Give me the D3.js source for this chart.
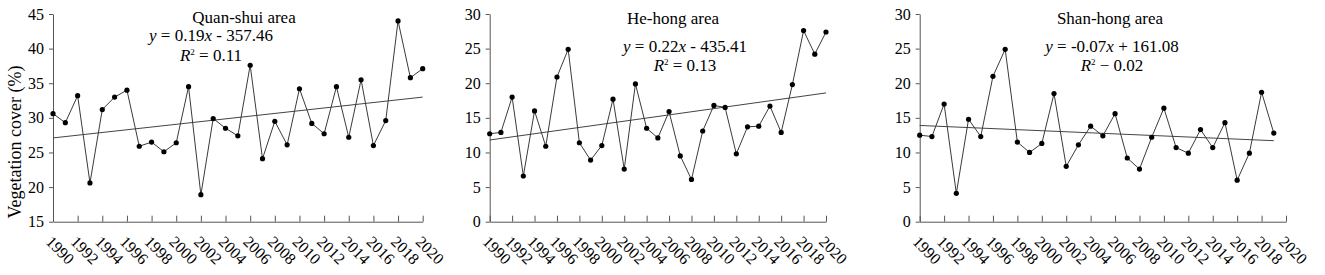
<!DOCTYPE html>
<html>
<head>
<meta charset="utf-8">
<script src="https://cdn.jsdelivr.net/npm/d3@7"></script>
<style>
  body { margin: 0; background: #fff; }
  svg text { font-family: "Liberation Serif", Tinos, "Times New Roman", Times, "DejaVu Serif", serif; fill: #000; }
</style>
</head>
<body>
<div id="chart"></div>
<script>
// years on the x axis
const years = [1990, 1991, 1992, 1993, 1994, 1995, 1996, 1997, 1998, 1999,
  2000, 2001, 2002, 2003, 2004, 2005, 2006, 2007, 2008, 2009,
  2010, 2011, 2012, 2013, 2014, 2015, 2016, 2017, 2018, 2019, 2020];
const xTickLabels = ["1990", "1992", "1994", "1996", "1998", "2000", "2002", "2004",
  "2006", "2008", "2010", "2012", "2014", "2016", "2018", "2020"];

// vegetation cover (%) per area
const quanShui = [30.6, 29.3, 33.2, 20.6, 31.2, 33.0, 34.0, 25.9, 26.5, 25.1,
  26.4, 34.5, 18.9, 29.9, 28.5, 27.4, 37.6, 24.1, 29.5, 26.1,
  34.2, 29.2, 27.7, 34.5, 27.2, 35.5, 26.0, 29.6, 44.0, 35.8, 37.1];
const heHong = [12.7, 12.9, 18.0, 6.6, 16.0, 10.9, 20.9, 24.9, 11.4, 8.9,
  11.0, 17.7, 7.6, 19.9, 13.5, 12.1, 15.9, 9.5, 6.1, 13.1,
  16.8, 16.5, 9.8, 13.7, 13.8, 16.7, 12.9, 19.8, 27.6, 24.2, 27.4];
const shanHong = [12.5, 12.3, 17.0, 4.1, 14.8, 12.3, 21.0, 24.9, 11.5, 10.0,
  11.3, 18.5, 8.0, 11.1, 13.8, 12.4, 15.6, 9.2, 7.6, 12.2,
  16.4, 10.7, 9.9, 13.3, 10.7, 14.3, 6.0, 9.9, 18.7, 12.8];

// linear trend end points [year, value]
const quanShuiTrend = [[1990, 27.1], [2020, 33.0]];
const heHongTrend = [[1990, 11.8], [2020, 18.6]];
const shanHongTrend = [[1990, 13.9], [2019, 11.7]];

const titles = ["Quan-shui area", "He-hong area", "Shan-hong area"];
const slopes = ["0.19", "0.22", "-0.07"];
const intercepts = ["- 357.46", "- 435.41", "+ 161.08"];
const rSquared = ["= 0.11", "= 0.13", "\u2212 0.02"];
const yDomains = [[15, 45], [0, 30], [0, 30]];
const yTicks = [[15, 20, 25, 30, 35, 40, 45], [0, 5, 10, 15, 20, 25, 30], [0, 5, 10, 15, 20, 25, 30]];

const width = 1325, height = 275;
const axisY = 221.7, topY = 14;
const serif = '"Liberation Serif", Tinos, "Times New Roman", Times, "DejaVu Serif", serif';

const svg = d3.select("#chart").append("svg")
  .attr("width", width)
  .attr("height", height);

// layout of each panel (left, right of plot area, text positions)
const panels = [
  {values: quanShui, trend: quanShuiTrend, x0: 53, x1: 422.7, titleX: 244, eqX: 211, titleY: 23, eqY: 41, r2Y: 61},
  {values: heHong, trend: heHongTrend, x0: 489.7, x1: 826, titleX: 673, eqX: 685, titleY: 24, eqY: 52, r2Y: 71},
  {values: shanHong, trend: shanHongTrend, x0: 919.7, x1: 1286, titleX: 1110, eqX: 1112, titleY: 24, eqY: 52, r2Y: 71}
];

panels.forEach((p, i) => {
  const g = svg.append("g");

  const x = d3.scaleLinear().domain([1990, 2020]).range([p.x0, p.x1]);
  const y = d3.scaleLinear().domain(yDomains[i]).range([axisY, topY]);

  // x axis: ticks point inward
  const xAxis = d3.axisBottom(x)
    .tickValues(xTickLabels.map(Number))
    .tickSizeInner(-6)
    .tickSizeOuter(0)
    .tickFormat("");
  const xg = g.append("g")
    .attr("transform", `translate(0,${axisY})`)
    .call(xAxis);
  xg.selectAll("path, line").attr("stroke", "#555");

  g.selectAll(".xlab")
    .data(xTickLabels)
    .join("text")
      .attr("class", "xlab")
      .attr("transform", d => `translate(${x(+d) - 8},${axisY + 21}) rotate(45)`)
      .attr("font-size", 16)
      .text(d => d);

  // y axis
  const yAxis = d3.axisLeft(y)
    .tickValues(yTicks[i])
    .tickSizeInner(4)
    .tickSizeOuter(0)
    .tickPadding(5);
  const yg = g.append("g")
    .attr("transform", `translate(${p.x0},0)`)
    .call(yAxis)
    .attr("font-family", serif)
    .attr("font-size", 16);
  yg.selectAll("path, line").attr("stroke", "#555");
  yg.selectAll("text").attr("fill", "#000");

  // trend line
  g.append("line")
    .attr("x1", x(p.trend[0][0]))
    .attr("y1", y(p.trend[0][1]))
    .attr("x2", x(p.trend[1][0]))
    .attr("y2", y(p.trend[1][1]))
    .attr("stroke", "#444")
    .attr("stroke-width", 1);

  // series line + points
  const pts = p.values.map((v, k) => [years[k], v]);
  g.append("path")
    .datum(pts)
    .attr("fill", "none")
    .attr("stroke", "#3a3a3a")
    .attr("stroke-width", 1)
    .attr("d", d3.line().x(d => x(d[0])).y(d => y(d[1])));

  g.selectAll(".pt")
    .data(pts)
    .join("circle")
      .attr("class", "pt")
      .attr("cx", d => x(d[0]))
      .attr("cy", d => y(d[1]))
      .attr("r", 2.6)
      .attr("fill", "#000");

  // annotation text
  g.append("text")
    .attr("x", p.titleX)
    .attr("y", p.titleY)
    .attr("text-anchor", "middle")
    .attr("font-size", 17)
    .text(titles[i]);

  const eq = g.append("text")
    .attr("x", p.eqX)
    .attr("y", p.eqY)
    .attr("text-anchor", "middle")
    .attr("font-size", 17);
  eq.append("tspan").attr("font-style", "italic").text("y");
  eq.append("tspan").text(` = ${slopes[i]}`);
  eq.append("tspan").attr("font-style", "italic").text("x");
  eq.append("tspan").text(` ${intercepts[i]}`);

  const r2 = g.append("text")
    .attr("x", p.eqX)
    .attr("y", p.r2Y)
    .attr("text-anchor", "middle")
    .attr("font-size", 17);
  r2.append("tspan").attr("font-style", "italic").text("R");
  r2.append("tspan").attr("font-size", 9).attr("dy", -6).text("2");
  r2.append("tspan").attr("dy", 6).text(` ${rSquared[i]}`);
});

// shared y-axis title
svg.append("text")
  .attr("transform", "translate(21,142) rotate(-90)")
  .attr("text-anchor", "middle")
  .attr("font-size", 18)
  .text("Vegetation cover (%)");
</script>
</body>
</html>
